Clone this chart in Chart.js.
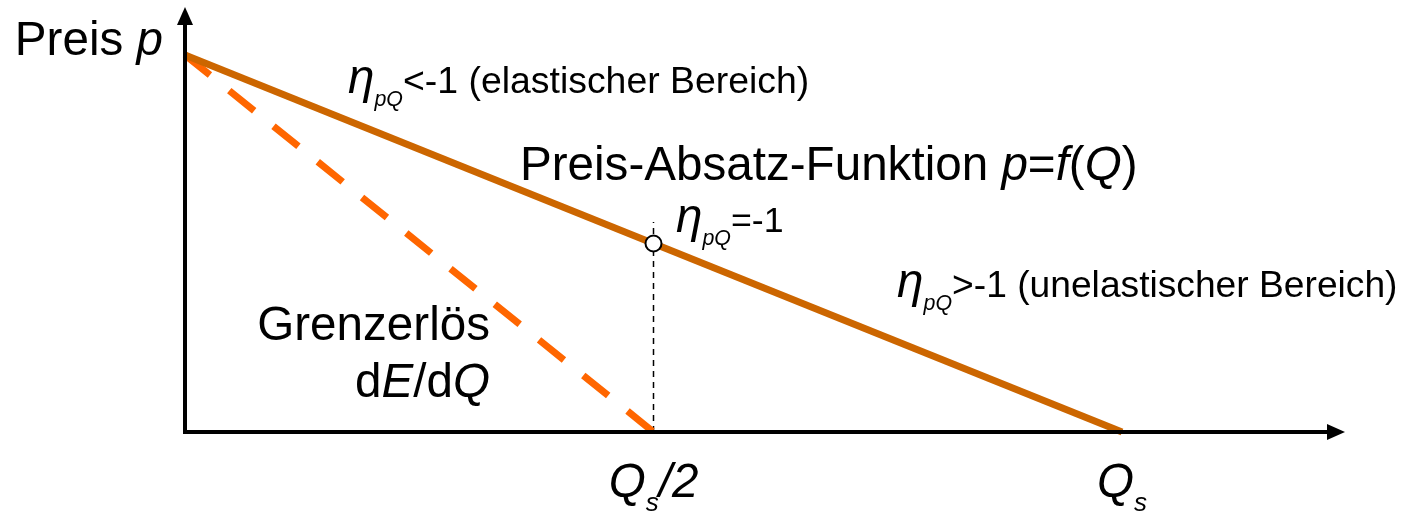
<!DOCTYPE html>
<html>
<head>
<meta charset="utf-8">
<script src="https://cdn.jsdelivr.net/npm/chart.js@4.4.1/dist/chart.umd.min.js"></script>
<style>
  html, body { margin: 0; padding: 0; background: #fff; }
  #wrap { width: 1420px; height: 516px; position: relative; }
</style>
</head>
<body>
<div id="wrap"><canvas id="c" width="1420" height="516"></canvas></div>
<script>
// ---- data (Q as fraction of Q_s, p as fraction of max price) ----
const quantities = [0, 0.5, 1];
const priceDemand = [1, 0.5, 0];
const mrQuantities = [0, 0.5];
const marginalRevenue = [1, 0];
const unitElasticQ = [0.5];
const unitElasticP = [0.5];
const guideQ = [0.5, 0.5];
const guideP = [0, 0.557];
const tickValues = [0.5, 1];
const tickLabels = [
  [{t: 'Q', i: true, s: 47.6}, {t: 's', i: true, s: 26, dy: 14}, {t: '/2', i: true, s: 47.6}],
  [{t: 'Q', i: true, s: 47.6}, {t: 's', i: true, s: 26, dy: 14}]
];

const FONT = '"Liberation Sans", Arial, sans-serif';
const SX = 1.0;

function pts(xs, ys) { return xs.map((x, k) => ({x: x, y: ys[k]})); }

// labels anchored in data coordinates
const annotations = [
  {x: 0, y: 1, dx: -22, align: 'right', segs: [{t: 'Preis ', s: 47.6}, {t: 'p', i: true, s: 47.6}]},
  {x: 0.174, y: 0.899, align: 'left', segs: [{t: 'η', i: true, s: 47.6}, {t: 'pQ', i: true, s: 21.4, dy: 13}, {t: '<-1 (elastischer Bereich)', s: 37.4}]},
  {x: 0.3575, y: 0.668, align: 'left', segs: [{t: 'Preis-Absatz-Funktion ', s: 47.6}, {t: 'p', i: true, s: 47.6}, {t: '=', s: 47.6}, {t: 'f', i: true, s: 47.6}, {t: '(', s: 47.6}, {t: 'Q', i: true, s: 47.6}, {t: ')', s: 47.6}]},
  {x: 0.524, y: 0.530, align: 'left', segs: [{t: 'η', i: true, s: 47.6}, {t: 'pQ', i: true, s: 21.4, dy: 13}, {t: '=-1', s: 35.7}]},
  {x: 0.760, y: 0.358, align: 'left', segs: [{t: 'η', i: true, s: 47.6}, {t: 'pQ', i: true, s: 21.4, dy: 13}, {t: '>-1 (unelastischer Bereich)', s: 37.2}]},
  {x: 0.3255, y: 0.244, align: 'right', segs: [{t: 'Grenzerlös', s: 47.6}]},
  {x: 0.3255, y: 0.093, align: 'right', segs: [{t: 'd', s: 47.6}, {t: 'E', i: true, s: 47.6}, {t: '/d', s: 47.6}, {t: 'Q', i: true, s: 47.6}]}
];

function fontOf(seg) { return (seg.i ? 'italic ' : '') + seg.s + 'px ' + FONT; }

function drawRich(ctx, segs, x, y, align) {
  ctx.save();
  let w = 0;
  segs.forEach(sg => { ctx.font = fontOf(sg); w += ctx.measureText(sg.t).width; });
  ctx.translate(x, y);
  ctx.scale(SX, 1);
  let cx = align === 'right' ? -w : (align === 'center' ? -w / 2 : 0);
  ctx.fillStyle = '#000';
  ctx.textBaseline = 'alphabetic';
  ctx.textAlign = 'left';
  segs.forEach(sg => {
    ctx.font = fontOf(sg);
    ctx.fillText(sg.t, cx, sg.dy || 0);
    cx += ctx.measureText(sg.t).width;
  });
  ctx.restore();
}

const axesPlugin = {
  id: 'axesPlugin',
  afterDatasetsDraw(chart) {
    const ctx = chart.ctx;
    const xs = chart.scales.x, ys = chart.scales.y;
    const x0 = xs.getPixelForValue(0), y0 = ys.getPixelForValue(0);
    ctx.save();
    ctx.strokeStyle = '#000';
    ctx.fillStyle = '#000';
    ctx.lineWidth = 4;
    ctx.lineCap = 'butt';
    // x axis
    ctx.beginPath();
    ctx.moveTo(x0 - 2, y0);
    ctx.lineTo(1330, y0);
    ctx.stroke();
    ctx.beginPath();
    ctx.moveTo(1345, y0);
    ctx.lineTo(1327, y0 - 8);
    ctx.lineTo(1327, y0 + 8);
    ctx.closePath();
    ctx.fill();
    // y axis
    ctx.beginPath();
    ctx.moveTo(x0, y0 + 2);
    ctx.lineTo(x0, 22);
    ctx.stroke();
    ctx.beginPath();
    ctx.moveTo(x0, 7);
    ctx.lineTo(x0 - 8, 25);
    ctx.lineTo(x0 + 8, 25);
    ctx.closePath();
    ctx.fill();
    ctx.restore();
  },
  afterDraw(chart) {
    const ctx = chart.ctx;
    const xs = chart.scales.x, ys = chart.scales.y;
    const y0 = ys.getPixelForValue(0);
    tickValues.forEach((v, k) => drawRich(ctx, tickLabels[k], xs.getPixelForValue(v), y0 + 65, 'center'));
    annotations.forEach(a => drawRich(ctx, a.segs, xs.getPixelForValue(a.x) + (a.dx || 0), ys.getPixelForValue(a.y), a.align));
  }
};

new Chart(document.getElementById('c'), {
  type: 'scatter',
  data: {
    datasets: [
      {label: 'η=-1', data: pts(unitElasticQ, unitElasticP), pointRadius: 8, pointHoverRadius: 8,
       pointBackgroundColor: '#fff', pointBorderColor: '#000', pointBorderWidth: 2, showLine: false, order: 0},
      {label: 'Preis-Absatz-Funktion', data: pts(quantities, priceDemand), showLine: true, borderColor: '#CC6600',
       borderWidth: 7, pointRadius: 0, borderCapStyle: 'butt', clip: false, order: 1},
      {label: 'Grenzerlös', data: pts(mrQuantities, marginalRevenue), showLine: true, borderColor: '#FF6600',
       borderWidth: 7, borderDash: [32, 24.8], borderCapStyle: 'butt', pointRadius: 0, clip: false, order: 2},
      {label: 'Hilfslinie', data: pts(guideQ, guideP), showLine: true, borderColor: '#000', borderWidth: 1.5,
       borderDash: [6, 5], pointRadius: 0, clip: false, order: 3}
    ]
  },
  options: {
    responsive: false,
    animation: false,
    devicePixelRatio: 1,
    layout: {padding: {left: 185, right: 298, top: 55, bottom: 84}},
    plugins: {legend: {display: false}, tooltip: {enabled: false}},
    scales: {
      x: {type: 'linear', min: 0, max: 1, display: false},
      y: {type: 'linear', min: 0, max: 1, display: false}
    }
  },
  plugins: [axesPlugin]
});
</script>
</body>
</html>
